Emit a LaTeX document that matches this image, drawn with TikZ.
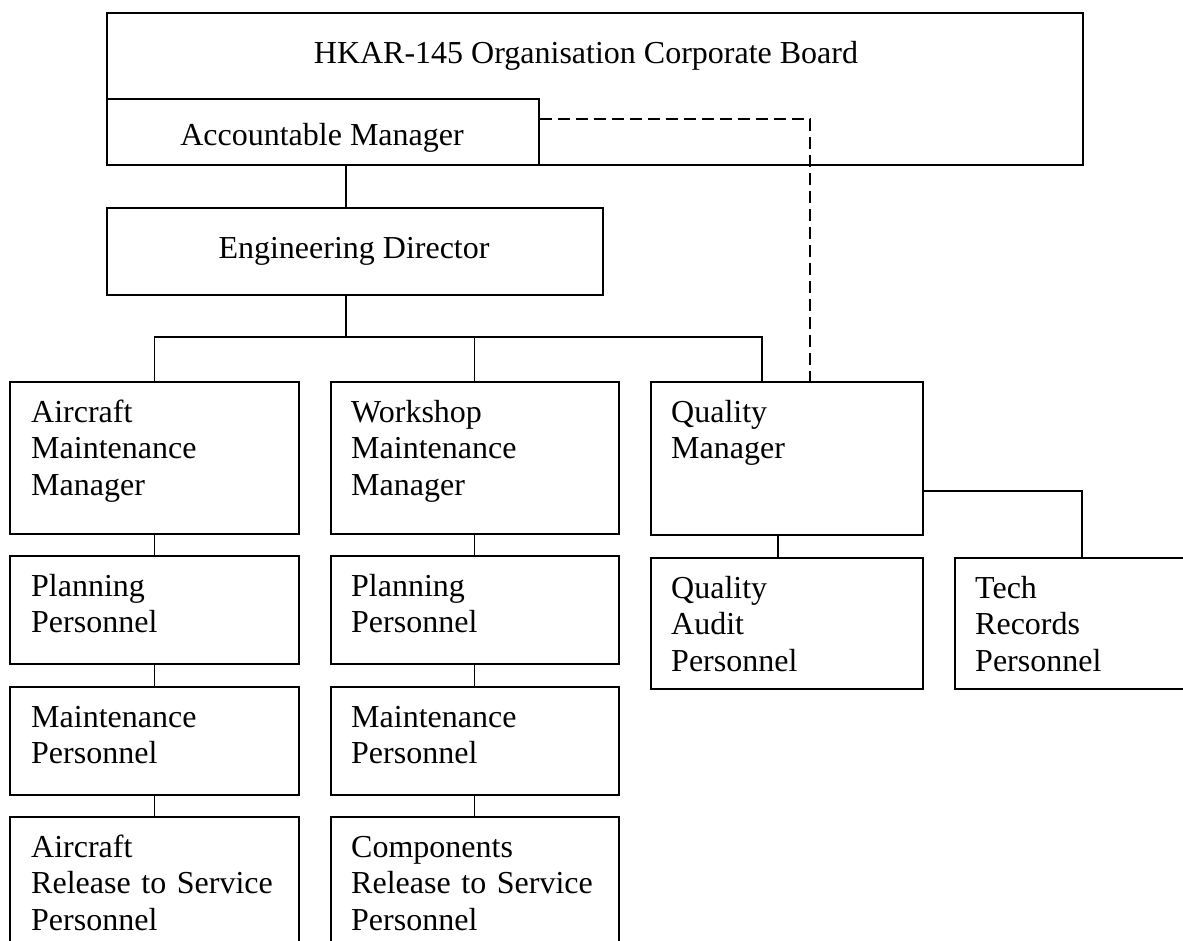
\documentclass[tikz,border=0pt]{standalone}
\usepackage{fontspec}
\setmainfont{Liberation Serif}
\usetikzlibrary{calc}
\begin{document}
\begin{tikzpicture}[x=1pt,y=-1pt,
  box/.style={draw, line width=1.5pt, inner sep=0pt, anchor=north west},
  lbl/.style={anchor=base west, inner sep=0pt, text width=280pt, align=left, font=\fontsize{32pt}{36.8pt}\selectfont},
  ttl/.style={anchor=base, inner sep=0pt, font=\fontsize{32pt}{36.8pt}\selectfont},
  conn/.style={line width=1.3pt},
  dconn/.style={line width=1.3pt, dash pattern=on 12pt off 6pt}]
\clip (0,0) rectangle (1183,940);
\fill[white] (0,0) rectangle (1183,940);
% boxes
\node[box, minimum width=976pt, minimum height=152pt] (board) at (106,12) {};
\node[box, minimum width=432pt, minimum height=66pt] (am) at (106,98) {};
\node[box, minimum width=496pt, minimum height=87pt] (ed) at (106,207) {};
\node[box, minimum width=289pt, minimum height=152pt] (amm) at (9,381) {};
\node[box, minimum width=288pt, minimum height=152pt] (wmm) at (330,381) {};
\node[box, minimum width=272pt, minimum height=153pt] (qm) at (650,381) {};
\node[box, minimum width=289pt, minimum height=108pt] (pa) at (9,555) {};
\node[box, minimum width=288pt, minimum height=108pt] (pw) at (330,555) {};
\node[box, minimum width=289pt, minimum height=108pt] (ma) at (9,686) {};
\node[box, minimum width=288pt, minimum height=108pt] (mw) at (330,686) {};
\node[box, minimum width=289pt, minimum height=150pt] (ra) at (9,816) {};
\node[box, minimum width=288pt, minimum height=150pt] (rw) at (330,816) {};
\node[box, minimum width=272pt, minimum height=131pt] (qa) at (650,557) {};
\node[box, minimum width=260pt, minimum height=131pt] (tr) at (954,557) {};
% texts
\node[ttl] (tboard) at (586,63) {HKAR-145 Organisation Corporate Board};
\node[ttl] (tam) at (322,145) {Accountable Manager};
\node[ttl] (ted) at (354,258) {Engineering Director};
\node[lbl] (tamm) at ($(amm.north west)+(22,41)$) {Aircraft\\Maintenance\\Manager};
\node[lbl] (twmm) at ($(wmm.north west)+(21,41)$) {Workshop\\Maintenance\\Manager};
\node[lbl] (tqm) at ($(qm.north west)+(21,41)$) {Quality\\Manager};
\node[lbl] (tpa) at ($(pa.north west)+(22,41)$) {Planning\\Personnel};
\node[lbl] (tpw) at ($(pw.north west)+(21,41)$) {Planning\\Personnel};
\node[lbl] (tma) at ($(ma.north west)+(22,41)$) {Maintenance\\Personnel};
\node[lbl] (tmw) at ($(mw.north west)+(21,41)$) {Maintenance\\Personnel};
\node[lbl] (tra) at ($(ra.north west)+(22,41)$) {Aircraft\\Release to Service\\Personnel};
\node[lbl] (trw) at ($(rw.north west)+(21,41)$) {Components\\Release to Service\\Personnel};
\node[lbl] (tqa) at ($(qa.north west)+(21,41)$) {Quality\\Audit\\Personnel};
\node[lbl] (ttr) at ($(tr.north west)+(21,41)$) {Tech\\Records\\Personnel};
% helper coordinates
\coordinate (bar) at (346,337);
\coordinate (qmx) at (762,337);
\coordinate (qax) at (778,545);
\coordinate (trx) at (1082,491);
\coordinate (dx) at (810,119);
% connectors
\draw[conn] (am.south -| bar) -- (ed.north -| bar);
\draw[conn] (ed.south -| bar) -- (bar);
\draw[conn] (amm.north) |- (bar);
\draw[conn] (wmm.north) -- (wmm.north |- bar);
\draw[conn] (qm.north -| qmx) |- (bar);
\draw[conn] (amm.south) -- (pa.north);
\draw[conn] (pa.south) -- (ma.north);
\draw[conn] (ma.south) -- (ra.north);
\draw[conn] (wmm.south) -- (pw.north);
\draw[conn] (pw.south) -- (mw.north);
\draw[conn] (mw.south) -- (rw.north);
\draw[conn] (qm.south -| qax) -- (qa.north -| qax);
\draw[conn] (qm.east |- trx) -| (tr.north -| trx);
\draw[dconn] (am.east |- dx) -| (qm.north -| dx);
\end{tikzpicture}
\end{document}
